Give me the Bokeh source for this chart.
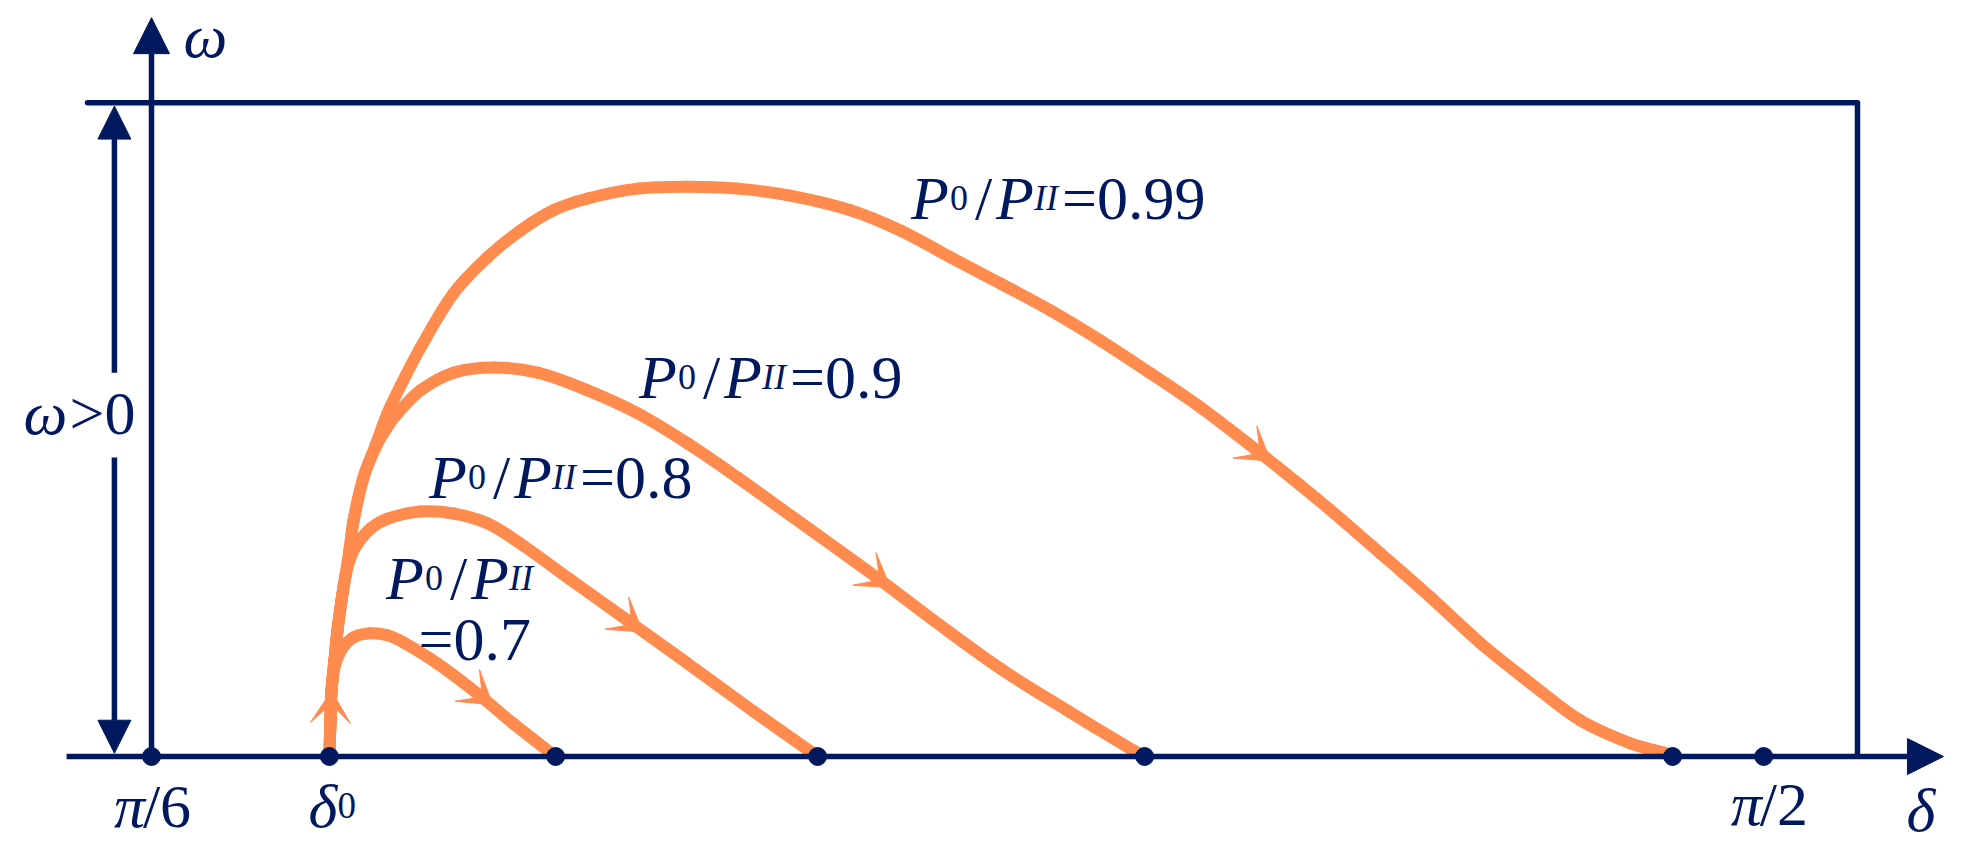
import math
from bokeh.plotting import figure
from bokeh.models import ColumnDataSource, Arrow, NormalHead, Range1d
from bokeh.core.properties import value
from bokeh.embed import file_html
from bokeh.resources import INLINE

NAVY = "#00195E"
ORANGE = "#FF8B4F"

# ---------------- data: delta in degrees, omega normalised to frame height ----------------
delta0 = 36.62
ratios = ["0.7", "0.8", "0.9", "0.99"]

delta_07 = [36.62, 36.66, 36.70, 36.81, 36.96, 37.15, 37.52, 38.15, 38.78, 39.38, 40.64, 42.13, 43.47, 45.04]
omega_07 = [0.000, 0.055, 0.101, 0.136, 0.154, 0.168, 0.182, 0.188, 0.185, 0.174, 0.142, 0.096, 0.050, 0.000]

delta_08 = [36.62, 36.66, 36.70, 36.81, 36.92, 37.07, 37.22, 37.41, 37.67, 38.15, 38.78, 40.01, 41.24,
            42.50, 43.73, 45.59, 47.71, 49.95, 52.40, 54.79]
omega_08 = [0.000, 0.055, 0.101, 0.147, 0.192, 0.238, 0.276, 0.304, 0.325, 0.348, 0.363, 0.374, 0.371,
            0.356, 0.325, 0.270, 0.208, 0.142, 0.069, 0.000]

delta_09 = [36.62, 36.66, 36.70, 36.81, 36.92, 37.07, 37.22, 37.37, 37.52, 37.89, 38.34, 38.71, 39.16,
            40.01, 41.24, 42.73, 44.37, 46.23, 48.09, 49.95, 51.81, 53.78, 57.13, 59.10, 61.60, 64.09,
            66.55, 66.96]
omega_09 = [0.000, 0.055, 0.101, 0.147, 0.192, 0.238, 0.276, 0.315, 0.360, 0.426, 0.472, 0.499, 0.524,
            0.559, 0.586, 0.594, 0.586, 0.559, 0.524, 0.478, 0.426, 0.368, 0.269, 0.208, 0.134, 0.070,
            0.009, 0.000]

delta_099 = [36.62, 36.66, 36.70, 36.81, 36.92, 37.07, 37.22, 37.37, 37.52, 37.89, 38.34, 38.78, 39.27,
             40.01, 41.24, 42.50, 43.73, 44.96, 46.23, 48.09, 49.95, 51.81, 53.67, 56.01, 57.87, 59.74,
             61.60, 63.46, 65.32, 67.18, 69.04, 71.27, 72.76, 73.88, 75.74, 77.60, 79.46, 81.32, 83.18,
             85.04, 86.27, 86.61]
omega_099 = [0.000, 0.055, 0.101, 0.147, 0.192, 0.238, 0.276, 0.315, 0.360, 0.426, 0.475, 0.524, 0.566,
             0.624, 0.707, 0.762, 0.803, 0.834, 0.852, 0.867, 0.870, 0.867, 0.857, 0.834, 0.803, 0.762,
             0.722, 0.681, 0.635, 0.585, 0.533, 0.463, 0.414, 0.376, 0.310, 0.243, 0.173, 0.112, 0.055,
             0.020, 0.006, 0.000]

# end points of the swings (marked on the delta axis) and the reference angles
end_angles = [45.04, 54.79, 66.96, 86.61]
ref_angles = [30.0, 90.0]

# direction arrows on the trajectories: (from -> tip)
arrow_from_delta = [36.66, 41.87, 47.45, 56.68, 70.83]
arrow_from_omega = [0.047, 0.105, 0.215, 0.282, 0.476]
arrow_to_delta = [36.70, 42.70, 48.28, 57.50, 71.65]
arrow_to_omega = [0.100, 0.079, 0.190, 0.258, 0.451]

# ---------------- figure ----------------
W, H = 1960, 848
SX = 26.87    # px per degree
SY = 655.0    # px per omega unit
X_AT_0 = 30.0 - 151 / SX
Y_AT_0 = 756 / SY
p = figure(width=W, height=H,
           x_range=Range1d(X_AT_0, X_AT_0 + W / SX), y_range=Range1d(Y_AT_0 - H / SY, Y_AT_0),
           toolbar_location=None, output_backend="svg", min_border=0,
           x_axis_location=None, y_axis_location=None, outline_line_color=None,
           background_fill_color="white", border_fill_color="white")
p.grid.visible = False

AXW = 5.5
FRAME_TOP = 0.998
FRAME_RIGHT = 93.49

# frame
p.line([27.62, FRAME_RIGHT], [FRAME_TOP, FRAME_TOP], line_color=NAVY, line_width=AXW, line_cap="round")
p.line([FRAME_RIGHT, FRAME_RIGHT], [0, FRAME_TOP], line_color=NAVY, line_width=AXW)


def smooth_path(xs, ys):
    """Cubic Bezier pieces through the read points (chord-length Catmull-Rom tangents)."""
    n = len(xs)
    X = [x * SX for x in xs]
    Y = [y * SY for y in ys]
    t = [0.0]
    for i in range(1, n):
        t.append(t[-1] + math.hypot(X[i] - X[i - 1], Y[i] - Y[i - 1]))
    mx, my = [], []
    for i in range(n):
        a, b = max(i - 1, 0), min(i + 1, n - 1)
        dt = t[b] - t[a]
        mx.append((X[b] - X[a]) / dt)
        my.append((Y[b] - Y[a]) / dt)
    out = dict(x0=[], y0=[], x1=[], y1=[], cx0=[], cy0=[], cx1=[], cy1=[])
    for i in range(n - 1):
        h = t[i + 1] - t[i]
        out["x0"].append(xs[i]); out["y0"].append(ys[i])
        out["x1"].append(xs[i + 1]); out["y1"].append(ys[i + 1])
        out["cx0"].append((X[i] + mx[i] * h / 3) / SX); out["cy0"].append((Y[i] + my[i] * h / 3) / SY)
        out["cx1"].append((X[i + 1] - mx[i + 1] * h / 3) / SX); out["cy1"].append((Y[i + 1] - my[i + 1] * h / 3) / SY)
    return ColumnDataSource(out)


# trajectories
for dx, om in [(delta_099, omega_099), (delta_09, omega_09), (delta_08, omega_08), (delta_07, omega_07)]:
    p.bezier(x0="x0", y0="y0", x1="x1", y1="y1", cx0="cx0", cy0="cy0", cx1="cx1", cy1="cy1",
             source=smooth_path(dx, om), line_color=ORANGE, line_width=12, line_cap="round")


# direction arrowheads (barbed, drawn in screen proportions)
def head_shape(x0, y0, x1, y1, L=32.0, WD=40.0, N=13.0):
    ddx, ddy = (x1 - x0) * SX, (y1 - y0) * SY
    d = math.hypot(ddx, ddy)
    ux, uy = ddx / d, ddy / d
    nx, ny = -uy, ux
    pts = [(0, 0), (-L * ux + WD / 2 * nx, -L * uy + WD / 2 * ny), (-N * ux, -N * uy),
           (-L * ux - WD / 2 * nx, -L * uy - WD / 2 * ny)]
    return [x1 + a / SX for a, b in pts], [y1 + b / SY for a, b in pts]


hx, hy = [], []
for a, b, c, d in zip(arrow_from_delta, arrow_from_omega, arrow_to_delta, arrow_to_omega):
    sx_, sy_ = head_shape(a, b, c, d)
    hx.append(sx_)
    hy.append(sy_)
p.patches(hx, hy, fill_color=ORANGE, line_color=ORANGE, line_width=1)


# axes with arrowheads
def axis_arrow(x0, y0, x1, y1, size):
    p.add_layout(Arrow(x_start=x0, y_start=y0, x_end=x1, y_end=y1,
                       line_color=NAVY, line_width=AXW,
                       end=NormalHead(size=size, fill_color=NAVY, line_color=NAVY, line_width=1)))


axis_arrow(26.84, 0, 96.69, 0, 36)          # delta axis
axis_arrow(30.0, 0, 30.0, 1.128, 36)        # omega axis
axis_arrow(28.62, 0.586, 28.62, 0.993, 33)  # omega>0 span, upper part
axis_arrow(28.62, 0.4565, 28.62, 0.005, 33)  # omega>0 span, lower part

# points on the delta axis
dots = ref_angles[:1] + [delta0] + end_angles + ref_angles[1:]
p.scatter(dots, [0] * len(dots), size=18, color=NAVY)

# ---------------- texts ----------------
SZ = "62px"
SUB = "36px"
TEXT_DY = 21 / SY   # baseline correction of the text glyph, in omega units
seg = dict(x=[], y=[], dx=[], text=[], style=[], size=[])


def rich(x, y, parts):
    for dx, t, st, sz in parts:
        seg["x"].append(x)
        seg["y"].append(y + TEXT_DY)
        seg["dx"].append(dx)
        seg["text"].append(t)
        seg["style"].append(st)
        seg["size"].append(sz)


def ratio_parts(r):
    parts = [(0, "P", "italic", SZ), (39, "0", "normal", SUB), (64, "/", "normal", SZ),
             (85, "P", "italic", SZ), (123, "II", "italic", SUB)]
    if r is not None:
        parts.append((151, "=" + r, "normal", SZ))
    return parts


anchors = {"0.99": (58.27, 0.820), "0.9": (48.14, 0.547), "0.8": (40.33, 0.394)}
for r, (ax, ay) in anchors.items():
    rich(ax, ay, ratio_parts(r))
rich(38.73, 0.241, ratio_parts(None))
rich(39.94, 0.147, [(0, "=" + ratios[0], "normal", SZ)])

# axis labels
rich(31.19, 1.0672, [(0, "ω", "italic", SZ)])
rich(95.31, -0.1145, [(0, "δ", "italic", SZ)])
rich(25.24, 0.4931, [(0, "ω", "italic", SZ), (46, ">0", "normal", SZ)])
rich(28.60, -0.1069, [(0, "π", "italic", SZ), (29, "/6", "normal", SZ)])
rich(88.77, -0.1053, [(0, "π", "italic", SZ), (29, "/2", "normal", SZ)])
rich(35.84, -0.1069, [(0, "δ", "italic", SZ), (29, "0", "normal", "37px")])

tsrc = ColumnDataSource(seg)
p.text(x="x", y="y", text="text", x_offset="dx", source=tsrc,
       text_font=value("Liberation Serif"), text_font_size="size", text_font_style="style",
       text_color=NAVY, text_baseline="alphabetic", text_align="left")

open("out.html", "w").write(file_html(p, INLINE))
